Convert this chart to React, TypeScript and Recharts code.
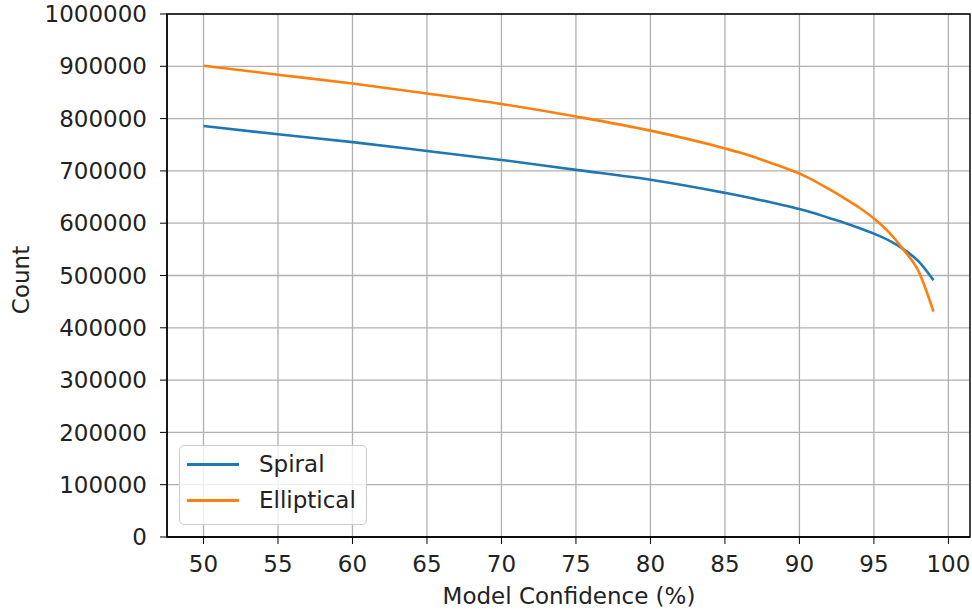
import React from "react";
import {
  LineChart,
  Line,
  XAxis,
  YAxis,
  CartesianGrid,
  Legend,
  ReferenceArea,
} from "recharts";

const confidence = [
  50, 55, 60, 65, 70, 75, 80, 85, 86, 87, 88, 89, 90, 91, 92, 93, 94, 95, 96, 97, 98, 99,
];
const spiral = [
  786000, 770000, 755000, 738000, 721000, 702000, 683000, 658000, 652500, 646500, 640500,
  634000, 627000, 619000, 610000, 601000, 591000, 580000, 567000, 550000, 527000, 491000,
];
const elliptical = [
  901000, 884000, 867000, 848000, 828000, 804000, 777000, 743000, 735000, 726000, 716000,
  706000, 695000, 681000, 665000, 648000, 630000, 609000, 583000, 549000, 508000, 431000,
];
const xTicks = [50, 55, 60, 65, 70, 75, 80, 85, 90, 95, 100];
const yTicks = [0, 100000, 200000, 300000, 400000, 500000, 600000, 700000, 800000, 900000, 1000000];

const BLUE = "#1f77b4";
const ORANGE = "#ff7f0e";
const FONT = "'DejaVu Sans', sans-serif";
const FS = 23;

const data = confidence.map((c, i) => ({
  c,
  spiral: spiral[i],
  elliptical: elliptical[i],
}));

function LegendBox() {
  const items = [
    { name: "Spiral", color: BLUE },
    { name: "Elliptical", color: ORANGE },
  ];
  return (
    <div
      style={{
        position: "relative",
        width: 186,
        height: 78,
        border: "1px solid #cccccc",
        borderRadius: 5,
        background: "rgba(255,255,255,0.8)",
        fontFamily: FONT,
        fontSize: FS,
        color: "#222",
      }}
    >
      {items.map((it, i) => (
        <div
          key={it.name}
          style={{
            position: "absolute",
            left: 0,
            top: 3 + i * 36,
            height: 30,
            display: "flex",
            alignItems: "center",
            whiteSpace: "nowrap",
          }}
        >
          <div style={{ width: 52, height: 3, background: it.color, marginLeft: 7, marginRight: 20 }} />
          <span>{it.name}</span>
        </div>
      ))}
    </div>
  );
}

export default function App() {
  return (
    <div style={{ position: "absolute", left: 0, top: 0, width: 972, height: 611, background: "#fff" }}>
      <LineChart
        width={972}
        height={611}
        data={data}
        margin={{ top: 14, right: 2, bottom: 0, left: 0 }}
        style={{ fontFamily: FONT }}
      >
        <CartesianGrid stroke="#b0b0b0" strokeWidth={1.3} />
        <XAxis
          dataKey="c"
          type="number"
          domain={[47.55, 101.45]}
          ticks={xTicks}
          allowDataOverflow
          height={74}
          tickSize={7}
          tickMargin={12}
          stroke="#000"
          tick={{ fill: "#222", fontSize: FS, fontFamily: FONT }}
          tickLine={{ stroke: "#000" }}
          axisLine={{ stroke: "#000", strokeWidth: 1.3 }}
          label={{
            content: () => (
              <text x={569} y={604} textAnchor="middle" fill="#222" fontSize={FS} fontFamily={FONT}>
                Model Confidence (%)
              </text>
            ),
          }}
        />
        <YAxis
          type="number"
          domain={[0, 1000000]}
          ticks={yTicks}
          allowDataOverflow
          width={167}
          tickSize={7}
          tickMargin={13}
          stroke="#000"
          tick={{ fill: "#222", fontSize: FS, fontFamily: FONT }}
          tickLine={{ stroke: "#000" }}
          axisLine={{ stroke: "#000", strokeWidth: 1.3 }}
          label={{
            content: () => (
              <text
                x={29}
                y={280}
                transform="rotate(-90 29 280)"
                textAnchor="middle"
                fill="#222"
                fontSize={FS}
                fontFamily={FONT}
              >
                Count
              </text>
            ),
          }}
        />
        <ReferenceArea
          x1={47.55}
          x2={101.45}
          y1={0}
          y2={1000000}
          fill="none"
          stroke="#000"
          strokeWidth={1.3}
          ifOverflow="visible"
        />
        <Line
          type="monotone"
          dataKey="spiral"
          stroke={BLUE}
          strokeWidth={2.6}
          dot={false}
          isAnimationActive={false}
        />
        <Line
          type="monotone"
          dataKey="elliptical"
          stroke={ORANGE}
          strokeWidth={2.6}
          dot={false}
          isAnimationActive={false}
        />
        <Legend
          layout="horizontal"
          align="center"
          verticalAlign="middle"
          content={() => <LegendBox />}
          wrapperStyle={{ position: "absolute", left: 179, top: 445, width: 188, height: 80 }}
        />
      </LineChart>
    </div>
  );
}
